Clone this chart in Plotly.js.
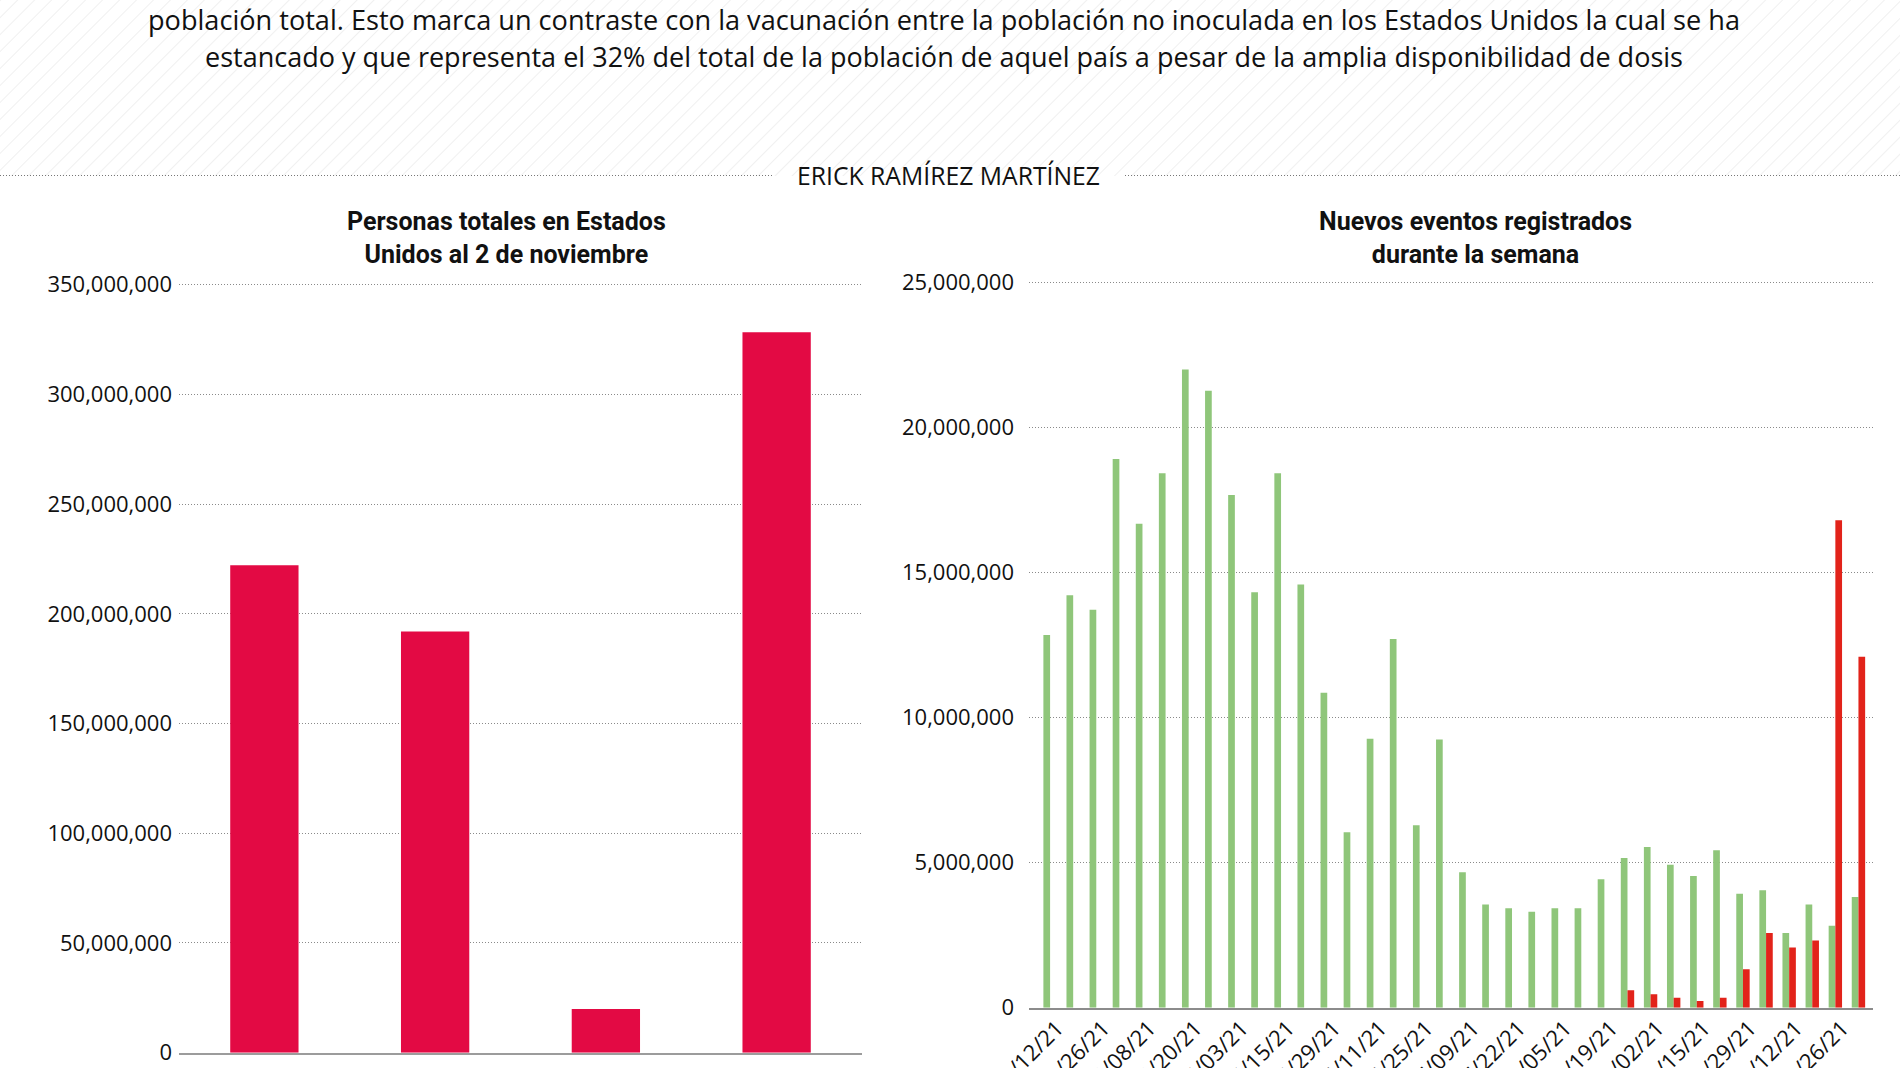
<!DOCTYPE html>
<html>
<head>
<meta charset="utf-8">
<script src="https://cdn.plot.ly/plotly-3.0.1.min.js"></script>
<style>
  html, body { margin: 0; padding: 0; width: 1900px; height: 1068px; overflow: hidden; background: #ffffff; }
  #header { position: absolute; left: 0; top: 0; }
  #chart { position: absolute; left: 0; top: 0; width: 1900px; height: 1200px; }
</style>
</head>
<body>
<svg id="header" width="1900" height="200" xmlns="http://www.w3.org/2000/svg">
  <defs>
    <pattern id="hatch" width="12" height="12" patternUnits="userSpaceOnUse" patternTransform="rotate(45)">
      <line x1="0" y1="0" x2="0" y2="12" stroke="#ececec" stroke-width="1.6"/>
    </pattern>
  </defs>
  <rect x="0" y="0" width="1900" height="176" fill="url(#hatch)"/>
  <text id="line1" x="944" y="30" text-anchor="middle" font-family="Open Sans" font-size="27.5" fill="#111"
        textLength="1592" lengthAdjust="spacingAndGlyphs"></text>
  <text id="line2" x="944" y="66.5" text-anchor="middle" font-family="Open Sans" font-size="27.5" fill="#111"
        textLength="1478" lengthAdjust="spacingAndGlyphs"></text>
  <line x1="0" y1="175.5" x2="772" y2="175.5" stroke="#777" stroke-width="1" stroke-dasharray="1,2"/>
  <line x1="1125" y1="175.5" x2="1900" y2="175.5" stroke="#777" stroke-width="1" stroke-dasharray="1,2"/>
  <text id="byline" x="948.5" y="185" text-anchor="middle" font-family="Open Sans" font-size="25.5" fill="#111"
        textLength="303" lengthAdjust="spacingAndGlyphs"></text>
</svg>
<div id="chart"></div>
<script>
// ---- Text ----
const introLines = [
  "población total. Esto marca un contraste con la vacunación entre la población no inoculada en los Estados Unidos la cual se ha",
  "estancado y que representa el 32% del total de la población de aquel país a pesar de la amplia disponibilidad de dosis"
];
const byline = "ERICK RAMÍREZ MARTÍNEZ";
const leftTitle = "Personas totales en Estados<br>Unidos al 2 de noviembre";
const rightTitle = "Nuevos eventos registrados<br>durante la semana";

// ---- Left chart data ----
const summaryCategories = ["Al menos una dosis", "Esquema completo", "Dosis de refuerzo", "Población total"];
const summaryValues = [222100000, 192000000, 19900000, 328300000];
const leftTickValues = [0, 50000000, 100000000, 150000000, 200000000, 250000000, 300000000, 350000000];

// ---- Right chart data ----
const weekLabels = [
  "03/12/21", "03/19/21", "03/26/21", "04/02/21", "04/08/21", "04/14/21",
  "04/20/21", "04/27/21", "05/03/21", "05/09/21", "05/15/21", "05/22/21",
  "05/29/21", "06/04/21", "06/11/21", "06/18/21", "06/25/21", "07/02/21",
  "07/09/21", "07/15/21", "07/22/21", "07/29/21", "08/05/21", "08/12/21",
  "08/19/21", "08/26/21", "09/02/21", "09/08/21", "09/15/21", "09/22/21",
  "09/29/21", "10/05/21", "10/12/21", "10/19/21", "10/26/21", "11/02/21"
];
const shownWeekLabels = ["03/12/21", "03/26/21", "04/08/21", "04/20/21", "05/03/21", "05/15/21",
  "05/29/21", "06/11/21", "06/25/21", "07/09/21", "07/22/21", "08/05/21",
  "08/19/21", "09/02/21", "09/15/21", "09/29/21", "10/12/21", "10/26/21"];
const weeklyDoses = [
  12850000, 14220000, 13720000, 18920000, 16690000, 18430000,
  22010000, 21270000, 17680000, 14330000, 18430000, 14590000,
  10860000, 6050000, 9270000, 12710000, 6290000, 9250000,
  4670000, 3560000, 3430000, 3310000, 3430000, 3430000,
  4430000, 5160000, 5540000, 4930000, 4540000, 5430000,
  3930000, 4050000, 2580000, 3560000, 2830000, 3820000
];
const weeklyBoosters = [
  null, null, null, null, null, null,
  null, null, null, null, null, null,
  null, null, null, null, null, null,
  null, null, null, null, null, null,
  null, 600000, 460000, 340000, 230000, 340000,
  1330000, 2580000, 2080000, 2320000, 16810000, 12100000
];
const rightTickValues = [0, 5000000, 10000000, 15000000, 20000000, 25000000];

// header text
document.getElementById("line1").textContent = introLines[0];
document.getElementById("line2").textContent = introLines[1];
document.getElementById("byline").textContent = byline;

// ---- Layout helpers (pixel -> paper) ----
const W = 1900, H = 1200;
const px = v => v / W;
const py = v => 1 - v / H;

const tickFont = { family: "Open Sans", size: 22, color: "#111" };
const gridStyle = { showgrid: true, gridcolor: "#8a8a8a", gridwidth: 1, griddash: "1px,2px" };

const traces = [
  {
    type: "bar", x: summaryCategories, y: summaryValues, xaxis: "x", yaxis: "y",
    width: 0.4, marker: { color: "#e30a44" }, name: "Personas", hoverinfo: "x+y"
  },
  {
    type: "bar", x: weekLabels, y: weeklyDoses, xaxis: "x2", yaxis: "y2",
    width: 0.29, offset: -0.29, marker: { color: "#8fc67a" }, name: "Dosis aplicadas"
  },
  {
    type: "bar", x: weekLabels, y: weeklyBoosters, xaxis: "x2", yaxis: "y2",
    width: 0.29, offset: 0, marker: { color: "#e2231a" }, name: "Dosis de refuerzo"
  }
];

const layout = {
  width: W, height: H,
  margin: { l: 0, r: 0, t: 0, b: 0, pad: 0 },
  paper_bgcolor: "rgba(0,0,0,0)",
  plot_bgcolor: "rgba(0,0,0,0)",
  showlegend: false,
  barmode: "overlay",
  font: { family: "Open Sans", color: "#111" },
  xaxis: {
    domain: [px(179), px(862)], anchor: "y", type: "category",
    range: [-0.5, 3.5], showgrid: false, zeroline: false,
    showline: true, linecolor: "#9c9c9c", linewidth: 2,
    ticks: "", showticklabels: false, fixedrange: true
  },
  yaxis: Object.assign({
    domain: [py(1052.7), py(280)], anchor: "x",
    range: [0, 352140000], tickvals: leftTickValues, tickformat: ",d",
    zeroline: false, showline: false, ticks: "", tickfont: tickFont,
    ticklabelstandoff: 6, fixedrange: true
  }, gridStyle),
  xaxis2: {
    domain: [px(1029), px(1873)], anchor: "y2", type: "category",
    range: [-0.913, 35.63], showgrid: false, zeroline: false,
    showline: true, linecolor: "#8c8c8c", linewidth: 2,
    ticks: "", tickvals: shownWeekLabels, ticktext: shownWeekLabels,
    tickangle: -45, tickfont: tickFont, ticklabelstandoff: -3, ticklabelshift: 7,
    fixedrange: true
  },
  yaxis2: Object.assign({
    domain: [py(1007.7), py(280)], anchor: "x2",
    range: [0, 25093000], tickvals: rightTickValues, tickformat: ",d",
    zeroline: false, showline: false, ticks: "", tickfont: tickFont,
    ticklabelstandoff: 14, fixedrange: true
  }, gridStyle),
  annotations: [
    {
      xref: "paper", yref: "paper", x: px(506), y: py(238.5),
      xanchor: "center", yanchor: "middle", showarrow: false,
      text: "<b>" + leftTitle.replace("<br>", "</b><br><b>") + "</b>",
      font: { family: "Roboto", size: 25, color: "#111" }, align: "center"
    },
    {
      xref: "paper", yref: "paper", x: px(1475), y: py(238.5),
      xanchor: "center", yanchor: "middle", showarrow: false,
      text: "<b>" + rightTitle.replace("<br>", "</b><br><b>") + "</b>",
      font: { family: "Roboto", size: 25, color: "#111" }, align: "center"
    }
  ]
};

Plotly.newPlot("chart", traces, layout, { displayModeBar: false, staticPlot: true });
</script>
</body>
</html>
